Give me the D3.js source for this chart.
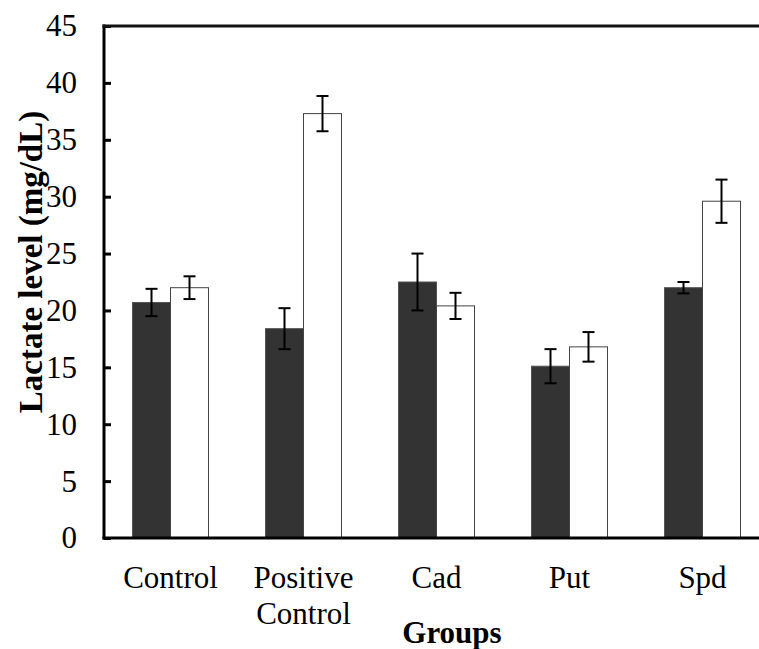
<!DOCTYPE html>
<html>
<head>
<meta charset="utf-8">
<script src="https://cdn.jsdelivr.net/npm/d3@7"></script>
<style>
  body { margin: 0; background: #fff; }
  text { font-family: "Liberation Serif", "Times New Roman", serif; fill: #000; }
</style>
</head>
<body>
<svg id="chart" width="759" height="649"></svg>
<script>
// data
var groups = ["Control", "Positive Control", "Cad", "Put", "Spd"];
var darkValues = [20.7, 18.4, 22.5, 15.1, 22.0];
var darkErrors = [1.2, 1.8, 2.5, 1.5, 0.5];
var whiteValues = [22.0, 37.3, 20.4, 16.8, 29.6];
var whiteErrors = [1.0, 1.55, 1.15, 1.3, 1.9];
var yTicks = [0, 5, 10, 15, 20, 25, 30, 35, 40, 45];

var svg = d3.select("#chart");
var mLeft = 104, mRight = 769, mTop = 26, mBottom = 538;

var x = d3.scaleBand()
    .domain(groups)
    .range([mLeft, mRight])
    .paddingInner(0.4286)
    .paddingOuter(0.2143);

var sub = d3.scaleBand()
    .domain(["dark", "white"])
    .range([0, x.bandwidth()]);

var y = d3.scaleLinear().domain([0, 45]).range([mBottom, mTop]);

var rows = [];
groups.forEach(function (g, i) {
  rows.push({ group: g, key: "dark", value: darkValues[i], err: darkErrors[i] });
  rows.push({ group: g, key: "white", value: whiteValues[i], err: whiteErrors[i] });
});

// bars
svg.selectAll(".bar")
  .data(rows)
  .enter().append("rect")
  .attr("class", "bar")
  .attr("x", function (d) { return x(d.group) + sub(d.key); })
  .attr("y", function (d) { return y(d.value); })
  .attr("width", sub.bandwidth())
  .attr("height", function (d) { return y(0) - y(d.value); })
  .style("fill", function (d) { return d.key == "dark" ? "#333333" : "#ffffff"; })
  .style("stroke", function (d) { return d.key == "dark" ? "#555" : "#444"; })
  .style("stroke-width", 1);

// error bars
var eb = svg.selectAll(".err")
  .data(rows)
  .enter().append("g")
  .attr("class", "err")
  .attr("transform", function (d) { return "translate(" + (x(d.group) + sub(d.key) + sub.bandwidth() / 2) + ",0)"; });

eb.append("line")
  .attr("x1", 0).attr("x2", 0)
  .attr("y1", function (d) { return y(d.value + d.err); })
  .attr("y2", function (d) { return y(d.value - d.err); });
eb.append("line")
  .attr("x1", -6).attr("x2", 6)
  .attr("y1", function (d) { return y(d.value + d.err); })
  .attr("y2", function (d) { return y(d.value + d.err); });
eb.append("line")
  .attr("x1", -6).attr("x2", 6)
  .attr("y1", function (d) { return y(d.value - d.err); })
  .attr("y2", function (d) { return y(d.value - d.err); });
eb.selectAll("line").style("stroke", "#000").style("stroke-width", 2);

// y axis
var yAxis = svg.append("g")
  .attr("transform", "translate(" + mLeft + ",0)")
  .call(d3.axisLeft(y).tickValues(yTicks).tickSize(-7).tickPadding(27));
yAxis.select(".domain").remove();
yAxis.selectAll(".tick line").style("stroke", "#000").style("stroke-width", 3);
yAxis.selectAll("text")
  .style("font-family", '"Liberation Serif", "Times New Roman", serif')
  .style("font-size", "31px");

// frame lines
svg.append("line").attr("x1", mLeft).attr("x2", mLeft).attr("y1", mTop - 1.5).attr("y2", mBottom + 1.5)
  .style("stroke", "#000").style("stroke-width", 3);
svg.append("line").attr("x1", mLeft - 1.5).attr("x2", 759).attr("y1", mBottom).attr("y2", mBottom)
  .style("stroke", "#000").style("stroke-width", 3);
svg.append("line").attr("x1", mLeft - 1.5).attr("x2", 759).attr("y1", mTop).attr("y2", mTop)
  .style("stroke", "#111").style("stroke-width", 3);

// x labels
var xl = svg.selectAll(".xlab")
  .data(groups)
  .enter().append("text")
  .attr("class", "xlab")
  .attr("text-anchor", "middle")
  .style("font-size", "31px");
xl.each(function (g) {
  var words = g == "Positive Control" ? ["Positive", "Control"] : [g];
  var t = d3.select(this);
  words.forEach(function (w, i) {
    t.append("tspan")
      .attr("x", x(g) + x.bandwidth() / 2)
      .attr("y", 588 + i * 36)
      .text(w);
  });
});

// axis titles
svg.append("text")
  .attr("x", 452).attr("y", 643)
  .attr("text-anchor", "middle")
  .style("font-size", "31px").style("font-weight", "bold")
  .text("Groups");

svg.append("text")
  .attr("transform", "translate(42,262) rotate(-90)")
  .attr("text-anchor", "middle")
  .style("font-size", "33px").style("font-weight", "bold")
  .text("Lactate level (mg/dL)");
</script>
</body>
</html>
